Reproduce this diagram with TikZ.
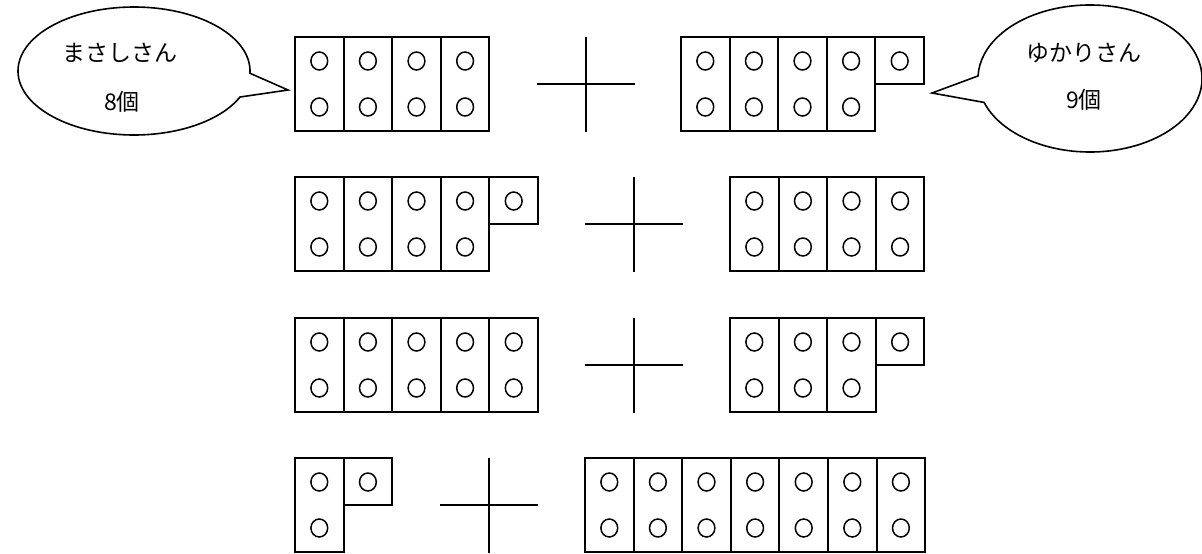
\documentclass[tikz,border=0pt]{standalone}
\usepackage{fontspec}
\newfontfamily\jpfont{Noto Sans CJK JP}
\usetikzlibrary{calc}
\newcommand{\cellw}{48.6}
\newcommand{\fullcols}[3]{%
  \foreach \i in {#3}{%
    \draw[cellbox] ({#1+(\i-1)*\cellw},{#2}) rectangle ++(\cellw,-94);
    \draw[dot] ({#1+(\i-0.5)*\cellw},{#2-24}) ellipse[x radius=8.4, y radius=9];
    \draw[dot] ({#1+(\i-0.5)*\cellw},{#2-70}) ellipse[x radius=8.4, y radius=9];
  }}
\newcommand{\topcols}[3]{%
  \foreach \i in {#3}{%
    \draw[cellbox] ({#1+(\i-1)*\cellw},{#2}) rectangle ++(\cellw,-47);
    \draw[dot] ({#1+(\i-0.5)*\cellw},{#2-24}) ellipse[x radius=8.4, y radius=9];
  }}
\newcommand{\plussign}[2]{%
  \draw[plusline] ({#1},{#2}) -- ({#1},{#2-95});
  \draw[plusline] ({#1-49},{#2-47}) -- ({#1+49},{#2-47});}
\begin{document}
\begin{tikzpicture}[x=1pt,y=1pt,
  cellbox/.style={draw=black, line width=2pt, line join=miter},
  dot/.style={draw=black, line width=1.5pt},
  plusline/.style={draw=black, line width=2pt},
  bubble/.style={draw=black, line width=1.6pt, fill=white, line join=miter},
  lbl/.style={font=\jpfont\fontsize{23}{26}\selectfont, inner sep=0pt}]
\useasboundingbox (0,0) rectangle (1202,-554);
\clip (0,0) rectangle (1202,-554);
% speech bubbles
\coordinate (lc) at (134,-71);
\coordinate (ltip) at (288,-90);
\draw[bubble] ($(lc)+(-2:116 and 64)$) arc[start angle=-2, end angle=336, x radius=116, y radius=64] -- (ltip) -- cycle;
\node[lbl] (masashi) at (120,-53) {まさしさん};
\node[lbl] (eight) at (122,-102) {8個};
\coordinate (rc) at (1090,-78.5);
\coordinate (rtip) at (932,-93);
\draw[bubble] ($(rc)+(199:112 and 73.5)$) arc[start angle=199, end angle=538, x radius=112, y radius=73.5] -- (rtip) -- cycle;
\node[lbl] (yukari) at (1084,-53) {ゆかりさん};
\node[lbl] (nine) at (1084,-100) {9個};
% row 1
\fullcols{295}{-37}{1,2,3,4}
\plussign{586}{-37}
\fullcols{681}{-37}{1,2,3,4}
\topcols{681}{-37}{5}
% row 2
\fullcols{295}{-177}{1,2,3,4}
\topcols{295}{-177}{5}
\plussign{634}{-177}
\fullcols{730}{-177}{1,2,3,4}
% row 3
\fullcols{295}{-318}{1,2,3,4,5}
\plussign{634}{-318}
\fullcols{730}{-318}{1,2,3}
\topcols{730}{-318}{4}
% row 4
\fullcols{295}{-458}{1}
\topcols{295}{-458}{2}
\plussign{489}{-458}
\fullcols{585}{-458}{1,2,3,4,5,6,7}
\end{tikzpicture}
\end{document}
